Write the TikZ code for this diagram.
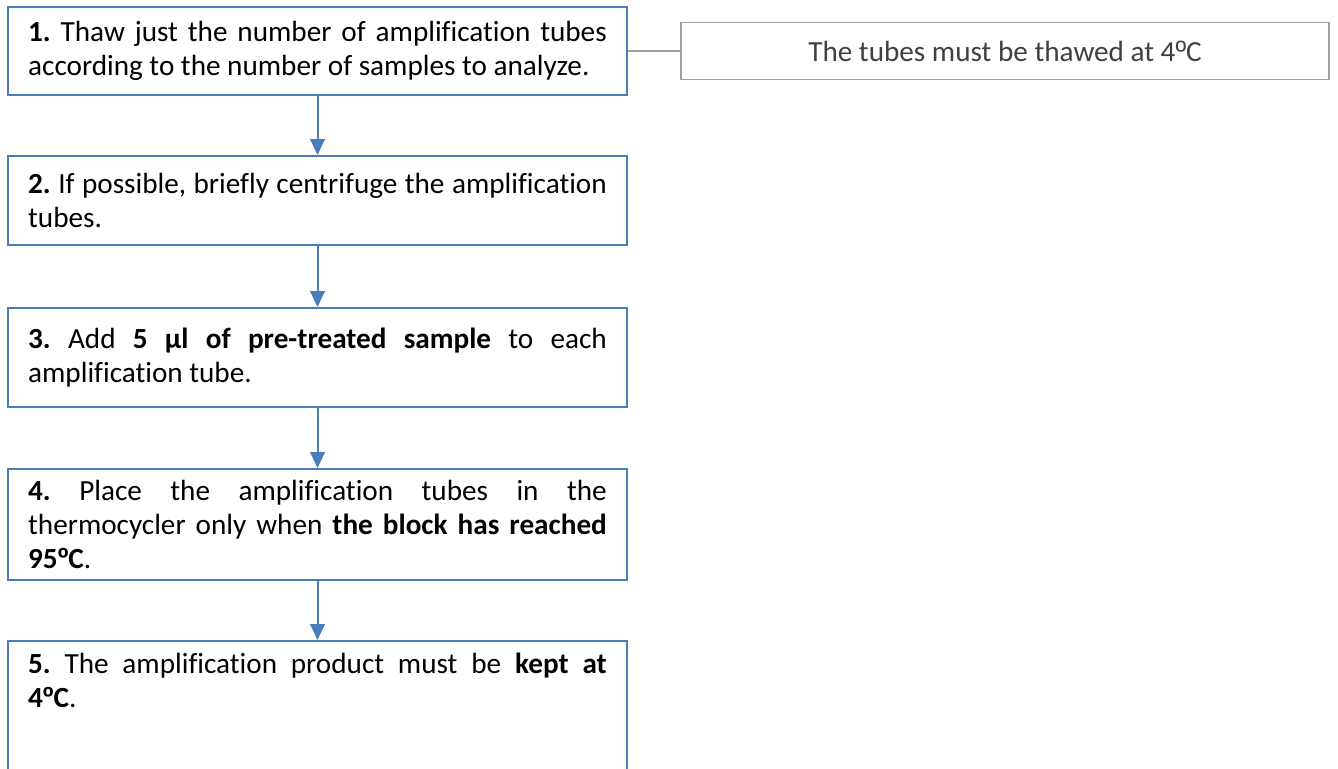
\documentclass[tikz,border=0pt]{standalone}
\usepackage{fontspec}
\setmainfont{Carlito}[Ligatures=NoCommon]
\newfontfamily\ordfont{Liberation Sans}
\usetikzlibrary{arrows.meta}
\definecolor{boxblue}{HTML}{4A7EBB}
\definecolor{sidegray}{HTML}{A0A0A0}
\definecolor{sidetext}{HTML}{404040}
\hyphenpenalty=10000
\exhyphenpenalty=10000
\tolerance=10000
\frenchspacing
\tikzset{
  stepbox/.style={draw=boxblue, line width=1.5pt, rectangle, minimum width=464.25pt,
    text width=434pt, inner xsep=0pt, inner ysep=0pt, align=justify,
    font=\fontsize{21.9}{25.5}\selectfont\frenchspacing, text=black},
  sidebox/.style={draw=sidegray, line width=1.1pt, rectangle, minimum width=486pt,
    minimum height=42.75pt, align=center, font=\fontsize{21.9}{25}\selectfont, text=sidetext},
  flow/.style={draw=boxblue, line width=1.5pt, -{Triangle[width=11pt,length=12pt]}},
  sideline/.style={draw=sidegray, line width=1.1pt}
}
\begin{document}
\begin{tikzpicture}[x=0.75pt,y=-0.75pt]
\useasboundingbox (0,0) rectangle (1338,768);
\node[stepbox, minimum height=66pt] (b1) at (317.5,51)
  {\textbf{1.} Thaw just the number of amplification tubes\linebreak according to the number of samples to analyze.};
\node[stepbox, minimum height=66.75pt] (b2) at (317.5,200.5)
  {\textbf{2.} If possible, briefly centrifuge the amplification\linebreak tubes.};
\node[stepbox, minimum height=74.25pt] (b3) at (317.5,357.5)
  {\textbf{3.} Add \textbf{5 µl of pre-treated sample} to each\linebreak amplification tube.};
\node[stepbox, minimum height=83.25pt] (b4) at (317.5,524.5)
  {\textbf{4.} Place the amplification tubes in the\linebreak thermocycler only when \textbf{the block has reached}\linebreak \textbf{95{\ordfont º}C}.};
\node[stepbox, anchor=north, inner ysep=9pt] (b5) at (317.5,640)
  {\textbf{5.} The amplification product must be \textbf{kept at}\linebreak \textbf{4{\ordfont º}C}.\par\vspace*{80pt}};
\node[sidebox] (side) at (1005,51) {The tubes must be thawed at 4{\ordfont º}C};
\draw[flow] (b1) -- (b2);
\draw[flow] (b2) -- (b3);
\draw[flow] (b3) -- (b4);
\draw[flow] (b4) -- (b5);
\draw[sideline] (b1) -- (side);
\end{tikzpicture}
\end{document}
